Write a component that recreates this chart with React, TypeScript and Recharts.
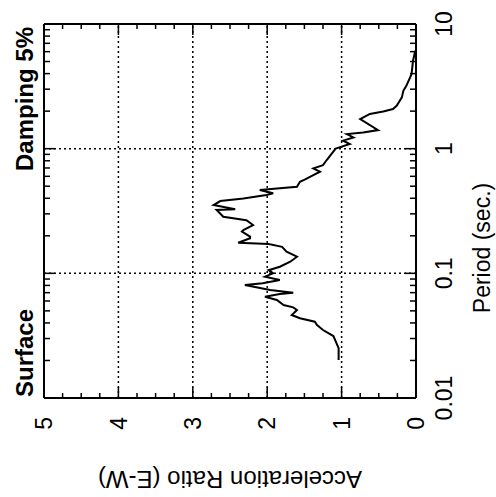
import { LineChart, Line, XAxis, YAxis, ReferenceLine } from 'recharts'

// period (sec.) and acceleration ratio, short period first
const periods = [
  0.0202, 0.0251, 0.0314, 0.0351, 0.0385, 0.0409, 0.0436, 0.0463, 0.0508, 0.0533,
  0.0557, 0.0611, 0.0649, 0.0682, 0.0698, 0.0735, 0.0805, 0.0832, 0.0883, 0.094,
  0.1, 0.106, 0.113, 0.124, 0.136, 0.149, 0.163, 0.172, 0.176, 0.191,
  0.197, 0.216, 0.222, 0.244, 0.267, 0.284, 0.322, 0.326, 0.353, 0.38,
  0.399, 0.425, 0.439, 0.466, 0.494, 0.543, 0.568, 0.614, 0.653, 0.695,
  0.738, 0.811, 1.0, 1.02, 1.09, 1.16, 1.23, 1.31, 1.35, 1.41,
  1.73, 1.9, 1.99, 2.08, 2.21, 2.58, 2.91, 3.19, 3.96, 5.07, 6.1,
]
const accelRatio = [
  1.04, 1.04, 1.11, 1.25, 1.33, 1.36, 1.56, 1.67, 1.6, 1.65,
  1.78, 1.87, 2.03, 1.83, 1.65, 1.96, 2.3, 2.06, 1.83, 2.03,
  1.92, 1.98, 1.83, 1.69, 1.6, 1.74, 1.8, 1.98, 2.39, 2.23,
  2.23, 2.34, 2.32, 2.19, 2.28, 2.59, 2.68, 2.43, 2.72, 2.63,
  2.32, 2.01, 1.92, 2.1, 1.6, 1.56, 1.49, 1.38, 1.29, 1.38,
  1.25, 1.2, 1.08, 1.04, 0.89, 0.98, 0.84, 0.93, 0.71, 0.51,
  0.75, 0.62, 0.44, 0.31, 0.26, 0.19, 0.17, 0.13, 0.06, 0.04, 0.01,
]

const periodLabels = [0.01, 0.1, 1, 10]
const periodMinor = [
  0.02, 0.03, 0.04, 0.05, 0.06, 0.07, 0.08, 0.09,
  0.2, 0.3, 0.4, 0.5, 0.6, 0.7, 0.8, 0.9,
  2, 3, 4, 5, 6, 7, 8, 9,
]
const periodGrid = [0.1, 1]

const accelLabels = [0, 1, 2, 3, 4, 5]
const accelMinor = [
  0.25, 0.5, 0.75, 1.25, 1.5, 1.75, 2.25, 2.5, 2.75,
  3.25, 3.5, 3.75, 4.25, 4.5, 4.75,
]
const accelGrid = [1, 2, 3, 4]

const data = periods.map((p, i) => ({ period: p, accel: accelRatio[i] }))

const P_MIN = 0.01
const P_MAX = 10
const A_MIN = 0
const A_MAX = 5

const FONT = '"Liberation Sans", Arial, Helvetica, sans-serif'
const gridStyle = { stroke: '#000', strokeWidth: 1.5, strokeDasharray: '2 3' }
const frame = { stroke: '#000', strokeWidth: 2 }
const tickStyle = { stroke: '#000', strokeWidth: 1.5 }

// inward tick lengths in axis units (plot is 372px for 5 units, 374px for 3 decades)
const aLen = (px: number) => px / 74.4
const pFac = (px: number) => Math.pow(10, px / 124.7)

// the whole chart is drawn upright and then turned a quarter turn to the left
const PeriodTick = ({ x, y, payload }: any) => (
  <text x={x} y={y + 36} textAnchor="middle" fontSize={23} fontFamily={FONT} fill="#000">
    {String(payload.value)}
  </text>
)

const AccelTick = ({ x, y, payload }: any) => (
  <text x={x - 19} y={y} dy="0.36em" textAnchor="end" fontSize={23} fontFamily={FONT} fill="#000">
    {String(payload.value)}
  </text>
)

const periodTickMarks = (p: number, px: number) => [
  <ReferenceLine key={'pb' + p} segment={[{ x: p, y: A_MIN }, { x: p, y: A_MIN + aLen(px) }]} {...tickStyle} />,
  <ReferenceLine key={'pt' + p} segment={[{ x: p, y: A_MAX }, { x: p, y: A_MAX - aLen(px) }]} {...tickStyle} />,
]

const accelTickMarks = (a: number, px: number) => [
  <ReferenceLine key={'al' + a} segment={[{ x: P_MIN, y: a }, { x: P_MIN * pFac(px), y: a }]} {...tickStyle} />,
  <ReferenceLine key={'ar' + a} segment={[{ x: P_MAX / pFac(px), y: a }, { x: P_MAX, y: a }]} {...tickStyle} />,
]

export default function App() {
  return (
    <div style={{ position: 'absolute', left: 0, top: 0, width: 496, height: 497, overflow: 'hidden', background: '#fff' }}>
      <div style={{ width: 497, height: 496, transformOrigin: '0 0', transform: 'translateY(497px) rotate(-90deg)' }}>
        <LineChart width={497} height={496} data={data} margin={{ top: 44, right: 24, bottom: 0, left: 0 }}>
          <XAxis
            dataKey="period"
            type="number"
            scale="log"
            domain={[P_MIN, P_MAX]}
            allowDataOverflow
            ticks={periodLabels}
            interval={0}
            height={80}
            tickSize={0}
            tickMargin={0}
            tickLine={false}
            axisLine={frame}
            tick={PeriodTick}
          />
          <YAxis
            type="number"
            domain={[A_MIN, A_MAX]}
            allowDataOverflow
            ticks={accelLabels}
            interval={0}
            width={99}
            tickSize={0}
            tickMargin={0}
            tickLine={false}
            axisLine={frame}
            tick={AccelTick}
          />
          {accelGrid.map((v) => (
            <ReferenceLine key={'ga' + v} y={v} {...gridStyle} />
          ))}
          {periodGrid.map((v) => (
            <ReferenceLine key={'gp' + v} x={v} {...gridStyle} />
          ))}
          <ReferenceLine y={A_MAX} {...frame} />
          <ReferenceLine x={P_MAX} {...frame} />
          {periodLabels.flatMap((p) => periodTickMarks(p, 11))}
          {periodMinor.flatMap((p) => periodTickMarks(p, 6))}
          {accelLabels.flatMap((a) => accelTickMarks(a, 11))}
          {accelMinor.flatMap((a) => accelTickMarks(a, 5))}
          <Line
            dataKey="accel"
            type="linear"
            stroke="#000"
            strokeWidth={2}
            dot={false}
            isAnimationActive={false}
          />
          <text x={100} y={33} fontSize={24} fontWeight="bold" fontFamily={FONT} fill="#000">
            Surface
          </text>
          <text x={470} y={33} textAnchor="end" fontSize={24} fontWeight="bold" fontFamily={FONT} fill="#000">
            Damping 5%
          </text>
          <text x={249} y={490} textAnchor="middle" fontSize={23} fontFamily={FONT} fill="#000">
            Period (sec.)
          </text>
          <text
            x={26}
            y={230}
            textAnchor="middle"
            fontSize={24}
            fontFamily={FONT}
            fill="#000"
            transform="rotate(-90, 26, 230)"
          >
            Acceleration Ratio (E-W)
          </text>
        </LineChart>
      </div>
    </div>
  )
}
